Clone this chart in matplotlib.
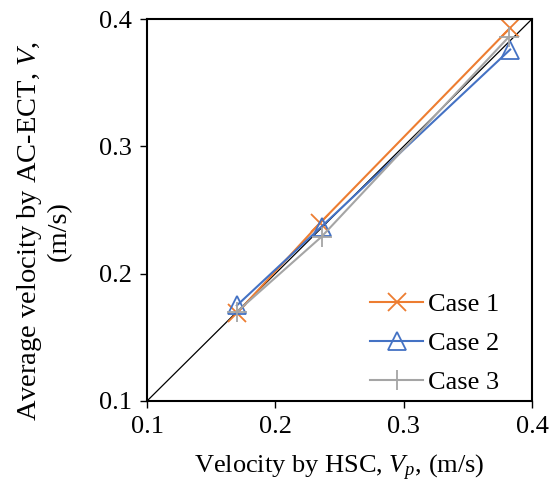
import numpy as np
import matplotlib.pyplot as plt

plt.rcParams["font.family"] = ["Liberation Serif", "DejaVu Serif"]
plt.rcParams["mathtext.fontset"] = "custom"
plt.rcParams["mathtext.it"] = "Liberation Serif:italic"
plt.rcParams["mathtext.rm"] = "Liberation Serif"

# data
case1_x = [0.170, 0.235, 0.383]
case1_y = [0.169, 0.240, 0.393]
case2_x = [0.170, 0.236, 0.383]
case2_y = [0.175, 0.237, 0.376]
case3_x = [0.170, 0.236, 0.382]
case3_y = [0.170, 0.229, 0.386]
ticks = [0.1, 0.2, 0.3, 0.4]

fs = 19

fig = plt.figure(figsize=(5.49, 5.04), dpi=100)
ax = fig.add_axes([0.2678, 0.2044, 0.7012, 0.7579])

ax.plot([0.1, 0.4], [0.1, 0.4], color="black", linewidth=0.9)
ax.plot(case1_x, case1_y, color="#ED7D31", linewidth=1.5, marker="x",
        markersize=13, markeredgewidth=1.3, label="Case 1")
ax.plot(case2_x, case2_y, color="#4472C4", linewidth=1.5, marker="^",
        markersize=13, markerfacecolor="none", markeredgewidth=1.3, label="Case 2")
ax.plot(case3_x, case3_y, color="#A5A5A5", linewidth=1.5, marker="+",
        markersize=14, markeredgewidth=1.3, label="Case 3")

ax.set_xlim(0.1, 0.4)
ax.set_ylim(0.1, 0.4)
ax.set_xticks(ticks)
ax.set_yticks(ticks)
ax.set_xticklabels([f"{t:.1f}" for t in ticks])
ax.set_yticklabels([f"{t:.1f}" for t in ticks])
ax.tick_params(direction="out", length=5, width=1, labelsize=fs, pad=6)
for s in ax.spines.values():
    s.set_linewidth(1.5)

ax.set_xlabel("Velocity by HSC, $V_p$, (m/s)", fontsize=fs, labelpad=10.5)
fig.text(0.0792, 0.5417, "Average velocity by AC-ECT, $V$,\n(m/s)", fontsize=20.5,
         rotation=90, ha="center", va="center", multialignment="center",
         linespacing=1.15)

ax.legend(loc="lower right", frameon=False, fontsize=fs, handlelength=2.0,
          handletextpad=0.2, labelspacing=0.58, borderaxespad=0.0,
          bbox_to_anchor=(0.943, -0.009))

fig.savefig("out.png", dpi=100)
